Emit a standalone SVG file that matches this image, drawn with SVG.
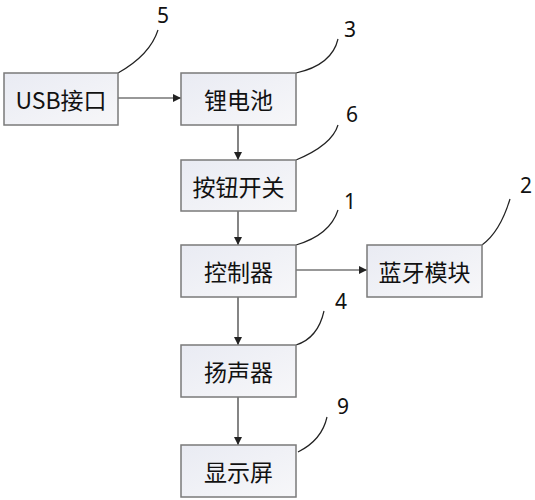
<svg xmlns="http://www.w3.org/2000/svg" width="535" height="500" viewBox="0 0 535 500">
<defs>
<linearGradient id="g" x1="0" y1="0" x2="1" y2="1">
<stop offset="0" stop-color="#e9ebf3"/>
<stop offset="1" stop-color="#f7f7f9"/>
</linearGradient>
<marker id="ar" markerWidth="8" markerHeight="8" refX="8" refY="4" orient="auto" markerUnits="userSpaceOnUse">
<path d="M0,0 L8,4 L0,8 Z" fill="#222"/>
</marker>
<style>
.box{fill:url(#g);stroke:#7a7a7a;stroke-width:1.5}
.t{font-family:"Noto Sans CJK SC","Liberation Sans",sans-serif;font-size:23px;fill:#111;text-anchor:middle;dominant-baseline:central}
.n{font-family:"Noto Sans","Liberation Sans",sans-serif;font-size:21px;fill:#111;text-anchor:middle}
.c{stroke:#333;stroke-width:1.2;fill:none}
.l{stroke:#222;stroke-width:1.2;fill:none}
</style>
</defs>
<g id="connectors">
<line class="c" x1="118" y1="98" x2="181" y2="98" marker-end="url(#ar)"/>
<line class="c" x1="238" y1="125" x2="238" y2="160" marker-end="url(#ar)"/>
<line class="c" x1="238" y1="211" x2="238" y2="245" marker-end="url(#ar)"/>
<line class="c" x1="296" y1="270" x2="367" y2="270" marker-end="url(#ar)"/>
<line class="c" x1="238" y1="297" x2="238" y2="345" marker-end="url(#ar)"/>
<line class="c" x1="238" y1="397" x2="238" y2="445" marker-end="url(#ar)"/>
</g>
<g id="leaders">
<path class="l" d="M118,73 Q150,55 158,30"/>
<path class="l" d="M296,73 Q332,65 338,39"/>
<path class="l" d="M296,160 Q332,145 338,125"/>
<path class="l" d="M296,245 Q330,235 338,210"/>
<path class="l" d="M482,245 Q500,232 510,199"/>
<path class="l" d="M296,345 Q318,338 324,311"/>
<path class="l" d="M298,452 Q322,440 327,417"/>
</g>
<g id="usb"><rect class="box" x="4" y="73" width="114" height="52"/><text class="t" x="61" y="99">USB接口</text><text class="n" x="163" y="23">5</text></g>
<g id="battery"><rect class="box" x="181" y="73" width="115" height="52"/><text class="t" x="238.5" y="99">锂电池</text><text class="n" x="350" y="37">3</text></g>
<g id="switch"><rect class="box" x="181" y="160" width="115" height="51"/><text class="t" x="238.5" y="185.5">按钮开关</text><text class="n" x="352" y="122">6</text></g>
<g id="controller"><rect class="box" x="181" y="245" width="115" height="52"/><text class="t" x="238.5" y="271">控制器</text><text class="n" x="350" y="209">1</text></g>
<g id="bluetooth"><rect class="box" x="367" y="245" width="115" height="52"/><text class="t" x="424.5" y="271">蓝牙模块</text><text class="n" x="526" y="193">2</text></g>
<g id="speaker"><rect class="box" x="181" y="345" width="115" height="52"/><text class="t" x="238.5" y="371">扬声器</text><text class="n" x="341" y="309">4</text></g>
<g id="display"><rect class="box" x="181" y="445" width="115" height="52"/><text class="t" x="238.5" y="471">显示屏</text><text class="n" x="343" y="414">9</text></g>
</svg>
